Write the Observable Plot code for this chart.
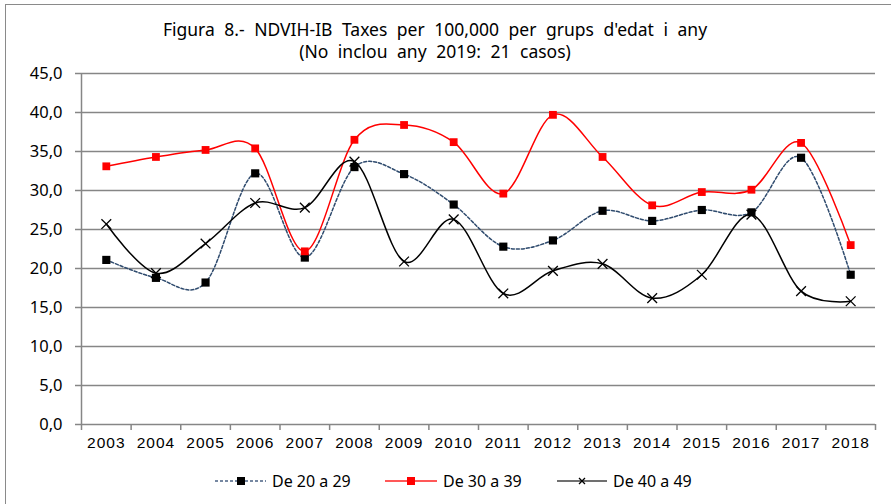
<!DOCTYPE html>
<html>
<head>
<meta charset="utf-8">
<script src="https://cdn.jsdelivr.net/npm/d3@7"></script>
<script src="https://cdn.jsdelivr.net/npm/@observablehq/plot@0.6"></script>
<style>
  html, body { margin: 0; padding: 0; background: #fff; width: 891px; height: 504px; overflow: hidden; }
  body { position: relative; font-family: "Noto Sans", sans-serif; }
  #frame { position: absolute; left: 5px; top: 4px; width: 1000px; height: 1000px; border-left: 1.5px solid #8a8a8a; border-top: 1.5px solid #8a8a8a; }
  #title { position: absolute; left: 0; top: 18px; width: 870px; text-align: center; font-size: 17.5px; line-height: 22px; color: #000; word-spacing: 5px; }
  #chart { position: absolute; left: 0; top: 60px; }
  .leg { position: absolute; top: 470px; height: 22px; display: flex; align-items: center; font-size: 16px; color: #000; }
  .leg svg { margin-right: 6px; }
</style>
</head>
<body>
<div id="frame"></div>
<div id="title">Figura 8.- NDVIH-IB Taxes per 100,000 per grups d'edat i any<br>(No inclou any 2019: 21 casos)</div>
<div id="chart"></div>
<div class="leg" style="left:215px"><svg width="51" height="14"><line x1="0" x2="51" y1="7" y2="7" stroke="#4a6284" stroke-width="1.5" stroke-dasharray="3,2"/><rect x="22" y="3" width="8" height="8" fill="#000"/></svg>De 20 a 29</div>
<div class="leg" style="left:385px"><svg width="52" height="14"><line x1="0" x2="52" y1="7" y2="7" stroke="#ff2020" stroke-width="1.5"/><rect x="22" y="3" width="8" height="8" fill="#ff0000"/></svg>De 30 a 39</div>
<div class="leg" style="left:557px"><svg width="50" height="14"><line x1="0" x2="50" y1="7" y2="7" stroke="#404040" stroke-width="1.5"/><path d="M22,4L28,10M28,4L22,10" stroke="#000" stroke-width="1.3"/></svg>De 40 a 49</div>
<script>
const years = [2003,2004,2005,2006,2007,2008,2009,2010,2011,2012,2013,2014,2015,2016,2017,2018];
const v20 = [21.1,18.8,18.2,32.2,21.4,33.0,32.1,28.2,22.8,23.6,27.4,26.1,27.5,27.2,34.2,19.2];
const v30 = [33.1,34.3,35.2,35.4,22.2,36.5,38.4,36.2,29.6,39.7,34.3,28.1,29.8,30.1,36.1,23.0];
const v40 = [25.7,19.4,23.2,28.4,27.8,33.7,20.9,26.3,16.8,19.7,20.6,16.2,19.2,26.9,17.1,15.8];
const yTicks = [0,5,10,15,20,25,30,35,40,45];

const d20 = years.map((y,i)=>({year:y, v:v20[i]}));
const d30 = years.map((y,i)=>({year:y, v:v30[i]}));
const d40 = years.map((y,i)=>({year:y, v:v40[i]}));
const bounds = years.map(y=>y-0.5).concat([years[years.length-1]+0.5]);
const gray = "#868686";
const fmt = d => d.toFixed(1).replace(".", ",");

const plot = Plot.plot({
  width: 891, height: 400,
  marginTop: 13, marginBottom: 36, marginLeft: 81, marginRight: 16,
  x: {domain: [bounds[0], bounds[bounds.length-1]]},
  y: {domain: [0, 45]},
  style: {background: "transparent", color: "#000"},
  marks: [
    Plot.ruleY(yTicks.filter(t=>t>0), {stroke: gray, strokeWidth: 1.5}),
    Plot.axisY({ticks: yTicks, tickFormat: fmt, tickSize: 6, tickPadding: 13, stroke: gray, strokeWidth: 1.5, fontSize: 16.5, fontFamily: "Noto Sans", label: null}),
    Plot.axisX({ticks: bounds, tickFormat: () => "", tickSize: 6, stroke: gray, strokeWidth: 1.5, label: null}),
    Plot.axisX({ticks: years, tickFormat: d => String(d), tickSize: 0, tickPadding: 12, fontSize: 15.5, fontFamily: "Liberation Sans", label: null}),
    Plot.ruleX([bounds[0]], {stroke: gray, strokeWidth: 1.5}),
    Plot.ruleY([0], {stroke: gray, strokeWidth: 1.5}),
    Plot.line(d20, {x: "year", y: "v", stroke: "#2f4b6e", strokeWidth: 1.5, strokeDasharray: "3,2", curve: "cardinal", tension: 0}),
    Plot.dot(d20, {x: "year", y: "v", symbol: "square", r: 4.6, fill: "#000", stroke: "none"}),
    Plot.line(d30, {x: "year", y: "v", stroke: "#ff0000", strokeWidth: 1.5, curve: "cardinal", tension: 0}),
    Plot.dot(d30, {x: "year", y: "v", symbol: "square", r: 4.4, fill: "#ff0000", stroke: "none"}),
    Plot.line(d40, {x: "year", y: "v", stroke: "#000", strokeWidth: 1.5, curve: "cardinal", tension: 0}),
    Plot.dot(d40, {x: "year", y: "v", symbol: "times", r: 4.5, stroke: "#000", strokeWidth: 1.3})
  ]
});
plot.querySelectorAll('[aria-label="x-axis tick label"] text').forEach(t => t.setAttribute("letter-spacing", "1"));
document.getElementById("chart").appendChild(plot);
</script>
</body>
</html>
